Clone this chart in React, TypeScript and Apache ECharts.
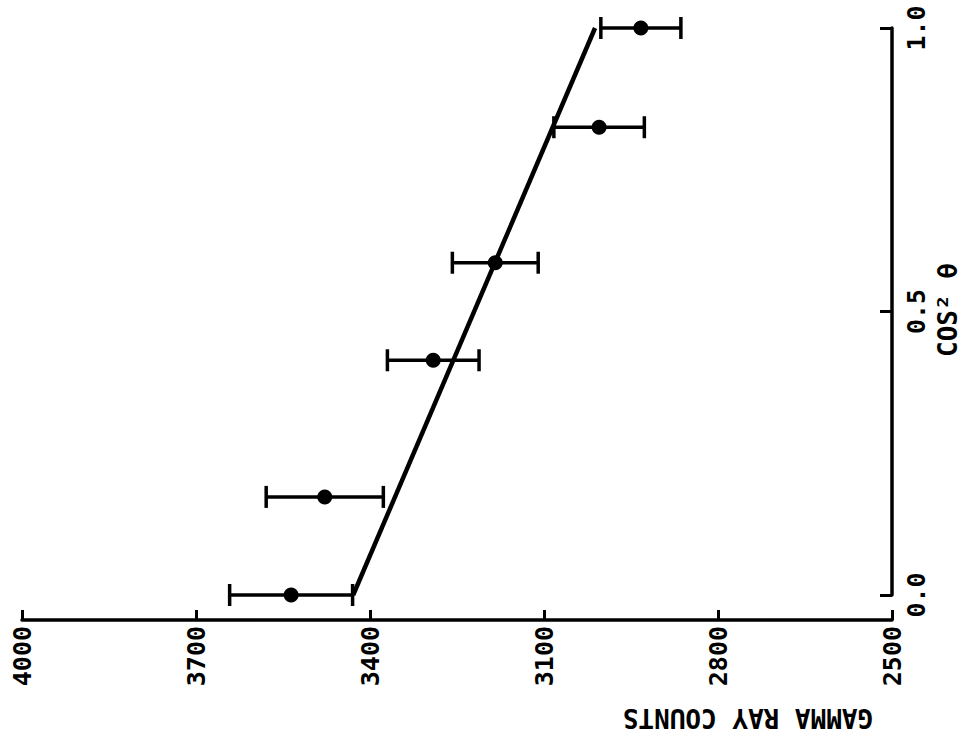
import React, { useEffect, useRef } from "react";
import * as echarts from "echarts";

// cos^2(theta) positions of measured points
const COS2 = [0, 0.173, 0.414, 0.586, 0.825, 1.0];
// gamma ray counts at each point
const COUNTS = [3536, 3478, 3291, 3184, 3005, 2933];
// half-width of error bars (counts)
const ERRORS = [106, 101, 79, 74, 78, 69];
// fitted straight line
const FIT_COS2 = [0, 1];
const FIT_COUNTS = [3429, 3012];
// tick labels
const X_TICKS = [2500, 2800, 3100, 3400, 3700, 4000];
const Y_TICKS = [0, 0.5, 1.0];

const FONT = "DejaVu Sans Mono";

export default function App() {
  const ref = useRef<HTMLDivElement>(null);

  useEffect(() => {
    document.body.style.margin = "0";
    if (!ref.current) return;
    const chart = echarts.init(ref.current, null, { renderer: "svg" });

    const points = COS2.map((v, i) => [COUNTS[i], v]);
    const bars = COS2.map((v, i) => [v, COUNTS[i] - ERRORS[i], COUNTS[i] + ERRORS[i]]);
    const fit = FIT_COS2.map((v, i) => [FIT_COUNTS[i], v]);

    const labelStyle = {
      fontFamily: FONT,
      fontWeight: "bold" as const,
      fontSize: 25,
      color: "#000",
    };

    chart.setOption({
      animation: false,
      backgroundColor: "#fff",
      grid: { left: 22, right: 72, top: 28, bottom: 141, containLabel: false },
      xAxis: {
        type: "value",
        min: 2500,
        max: 4000,
        inverse: true,
        position: "bottom",
        offset: 25,
        axisLine: { show: true, onZero: false, lineStyle: { color: "#000", width: 3.5 } },
        axisTick: {
          show: true,
          inside: true,
          length: 10,
          customValues: X_TICKS,
          lineStyle: { color: "#000", width: 3 },
        },
        axisLabel: {
          ...labelStyle,
          rotate: 90,
          margin: 6,
          customValues: X_TICKS,
          formatter: (v: number) => String(v),
        },
        splitLine: { show: false },
      },
      yAxis: {
        type: "value",
        min: 0,
        max: 1,
        interval: 0.5,
        position: "right",
        axisLine: { show: true, onZero: false, lineStyle: { color: "#000", width: 3.5 } },
        axisTick: {
          show: true,
          inside: true,
          length: 12,
          lineStyle: { color: "#000", width: 3 },
        },
        axisLabel: {
          ...labelStyle,
          rotate: 90,
          margin: 12,
          customValues: Y_TICKS,
          formatter: (v: number) => v.toFixed(1),
        },
        splitLine: { show: false },
      },
      graphic: [
        {
          type: "text",
          x: 748,
          y: 718,
          rotation: Math.PI,
          style: {
            text: "GAMMA RAY COUNTS",
            fontFamily: FONT,
            fontWeight: "bold",
            fontSize: 26,
            fill: "#000",
            textAlign: "center",
            textVerticalAlign: "middle",
          },
        },
        {
          type: "text",
          x: 948,
          y: 310,
          rotation: Math.PI / 2,
          style: {
            text: "COS² θ",
            fontFamily: FONT,
            fontWeight: "bold",
            fontSize: 26,
            fill: "#000",
            textAlign: "center",
            textVerticalAlign: "middle",
          },
        },
      ],
      series: [
        {
          type: "line",
          data: fit,
          showSymbol: false,
          symbol: "none",
          lineStyle: { color: "#000", width: 4.5 },
          z: 2,
        },
        {
          type: "custom",
          data: bars,
          z: 3,
          renderItem: (params: any, api: any) => {
            const y = api.value(0);
            const lo = api.coord([api.value(1), y]);
            const hi = api.coord([api.value(2), y]);
            const cap = 11;
            const style = { stroke: "#000", lineWidth: 3.5 };
            return {
              type: "group",
              children: [
                { type: "line", shape: { x1: lo[0], y1: lo[1], x2: hi[0], y2: hi[1] }, style },
                { type: "line", shape: { x1: lo[0], y1: lo[1] - cap, x2: lo[0], y2: lo[1] + cap }, style },
                { type: "line", shape: { x1: hi[0], y1: hi[1] - cap, x2: hi[0], y2: hi[1] + cap }, style },
              ],
            };
          },
        },
        {
          type: "scatter",
          data: points,
          symbol: "circle",
          symbolSize: 15,
          itemStyle: { color: "#000", opacity: 1 },
          z: 4,
        },
      ],
    });

    return () => chart.dispose();
  }, []);

  return <div ref={ref} style={{ width: 964, height: 736 }} />;
}
